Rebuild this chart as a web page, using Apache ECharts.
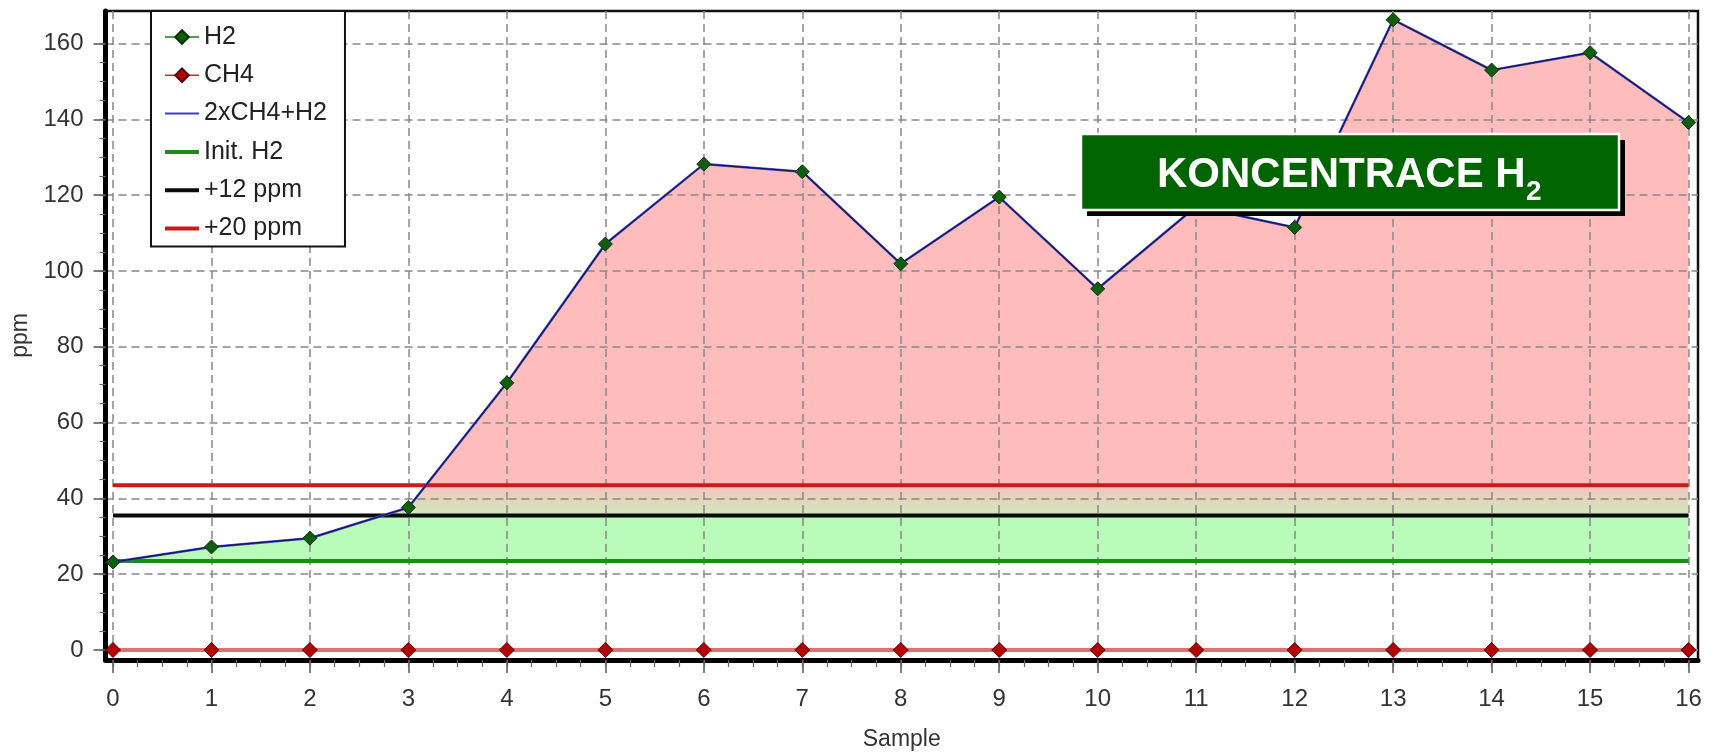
<!DOCTYPE html>
<html>
<head>
<meta charset="utf-8">
<script src="https://cdn.jsdelivr.net/npm/echarts@6/dist/echarts.min.js"></script>
<style>
html,body{margin:0;padding:0;background:#fff;}
#chart{width:1715px;height:753px;}
</style>
</head>
<body>
<div id="chart"></div>
<script>
// ---- data ----
const samples = [0,1,2,3,4,5,6,7,8,9,10,11,12,13,14,15,16];
const h2 = [23.2,27.2,29.5,37.6,70.5,107.1,128.2,126.2,101.9,119.5,95.3,117,111.5,166.3,153,157.6,139.2];
const ch4 = [0,0,0,0,0,0,0,0,0,0,0,0,0,0,0,0,0];
const initH2 = 23.5;
const offsetLow = 12;
const offsetHigh = 20;
const xTickValues = [0,1,2,3,4,5,6,7,8,9,10,11,12,13,14,15,16];
const yTickValues = [0,20,40,60,80,100,120,140,160];

// ---- derived ----
const sumSeries = samples.map((s,i)=>2*ch4[i]+h2[i]);
const lvlInit = initH2, lvl12 = initH2+offsetLow, lvl20 = initH2+offsetHigh;
const xMinor = []; for (let v=xTickValues[0]; v<=xTickValues[xTickValues.length-1]+1e-9; v+=0.25) xMinor.push(+v.toFixed(2));
const yMinor = []; for (let v=yTickValues[0]; v<=yTickValues[yTickValues.length-1]+1e-9; v+=5) yMinor.push(v);
const X_MIN=-0.076, X_MAX=16.096, Y_MIN=-2.64, Y_MAX=168.6;
const FONT = '"Liberation Sans", Arial, sans-serif';

function bandPoints(xs, ys, lo, hi){
  const clamp=v=>Math.max(lo,Math.min(hi,v));
  const pts=[];
  for(let i=0;i<xs.length;i++){
    if(i>0){
      const x0=xs[i-1],y0=ys[i-1],x1=xs[i],y1=ys[i];
      const cr=[];
      [lo,hi].forEach(t=>{ if((y0-t)*(y1-t)<0){ cr.push([x0+(t-y0)/(y1-y0)*(x1-x0), t]); } });
      cr.sort((a,b)=>a[0]-b[0]);
      cr.forEach(c=>pts.push([c[0],clamp(c[1])]));
    }
    pts.push([xs[i],clamp(ys[i])]);
  }
  pts.push([xs[xs.length-1],lo]);
  pts.push([xs[0],lo]);
  return pts;
}

const chart = echarts.init(document.getElementById('chart'), null, {renderer:'canvas'});

const fillSeries = {
  type:'custom', name:'fills', z:-1, silent:true, clip:true,
  data:[[0,0]],
  renderItem:function(params, api){
    const toPx = p=>api.coord(p);
    const green = bandPoints(samples, sumSeries, lvlInit, lvl12).map(toPx);
    const mid = bandPoints(samples, sumSeries, lvl12, lvl20).map(toPx);
    const pink = bandPoints(samples, sumSeries, lvl20, 1e9).map(toPx);
    const yTop = api.coord([0,lvl20])[1], yBot = api.coord([0,lvl12])[1];
    return {type:'group', children:[
      {type:'polygon', shape:{points:green}, style:{fill:'#b9fbb9'}},
      {type:'polygon', shape:{points:mid}, style:{fill:new echarts.graphic.LinearGradient(0,yTop,0,yBot,[{offset:0,color:'#f7c4bf'},{offset:1,color:'#cdeabb'}],true)}},
      {type:'polygon', shape:{points:pink}, style:{fill:'#ffbcbc'}}
    ]};
  }
};

const hLine = (v)=>[[samples[0],v],[samples[samples.length-1],v]];
const noSym = {opacity:0};

const option = {
  animation:false,
  backgroundColor:'#fff',
  grid:{left:105.5, top:11, right:1715-1698, bottom:753-660, show:true, borderColor:'#111', borderWidth:2.5, backgroundColor:'transparent', containLabel:false, outerBoundsMode:'none'},
  xAxis:[{
    type:'value', min:X_MIN, max:X_MAX, position:'bottom',
    name:'Sample', nameLocation:'middle', nameGap:68,
    nameTextStyle:{fontFamily:FONT, fontSize:23, color:'#333'},
    axisLine:{show:true, onZero:false, lineStyle:{color:'#000', width:5}},
    axisTick:{show:true, customValues:xTickValues, length:13, lineStyle:{color:'#555', width:1.5}},
    axisLabel:{show:true, customValues:xTickValues, margin:27, fontFamily:FONT, fontSize:24, color:'#333'},
    splitLine:{show:true, lineStyle:{color:'#888', width:1.5, type:[8,5]}}
  },{
    type:'value', min:X_MIN, max:X_MAX, position:'bottom',
    axisLine:{show:false, onZero:false},
    axisTick:{show:true, customValues:xMinor, length:7, lineStyle:{color:'#666', width:1.2}},
    axisLabel:{show:false},
    splitLine:{show:false}
  }],
  yAxis:[{
    type:'value', min:Y_MIN, max:Y_MAX, position:'left',
    name:'ppm', nameLocation:'middle', nameGap:72, nameRotate:90,
    nameTextStyle:{fontFamily:FONT, fontSize:23, color:'#333'},
    axisLine:{show:true, onZero:false, lineStyle:{color:'#000', width:5}},
    axisTick:{show:true, customValues:yTickValues, length:12, lineStyle:{color:'#555', width:1.5}},
    axisLabel:{show:true, customValues:yTickValues, margin:22, fontFamily:FONT, fontSize:24, color:'#333'},
    splitLine:{show:true, lineStyle:{color:'#888', width:1.5, type:[8,5]}}
  },{
    type:'value', min:Y_MIN, max:Y_MAX, position:'left',
    axisLine:{show:false, onZero:false},
    axisTick:{show:true, customValues:yMinor, length:6, lineStyle:{color:'#666', width:1.2}},
    axisLabel:{show:false},
    splitLine:{show:false}
  }],
  legend:{
    orient:'vertical', left:151, top:11,
    padding:[13,18,5,12], itemGap:12.3, itemWidth:34, itemHeight:17,
    backgroundColor:'#fff', borderColor:'#111', borderWidth:2, borderRadius:0,
    textStyle:{fontFamily:FONT, fontSize:25, color:'#222', lineHeight:26},
    data:[
      {name:'H2', lineStyle:{color:'#1a7a1a', width:1.5}},
      {name:'CH4', lineStyle:{color:'#c83030', width:1.5}},
      {name:'2xCH4+H2', itemStyle:noSym, lineStyle:{color:'#3a3ad0', width:2}},
      {name:'Init. H2', itemStyle:noSym, lineStyle:{color:'#1f8a1f', width:4}},
      {name:'+12 ppm', itemStyle:noSym, lineStyle:{color:'#0a0a0a', width:4}},
      {name:'+20 ppm', itemStyle:noSym, lineStyle:{color:'#c81c1c', width:4}}
    ]
  },
  graphic:[
    {type:'rect', shape:{x:1087, y:140, width:538, height:76}, style:{fill:'#000'}, z:100},
    {type:'rect', shape:{x:1081, y:134, width:538, height:76}, style:{fill:'#006400', stroke:'#fff', lineWidth:2.5}, z:101},
    {type:'text', x:1157, y:175, z:102, style:{text:'KONCENTRACE H', fill:'#fff', font:'bold 42px '+FONT, align:'left', verticalAlign:'middle', textShadowColor:'#000', textShadowOffsetX:3, textShadowOffsetY:3, textShadowBlur:0}},
    {type:'text', x:1526, y:192, z:102, style:{text:'2', fill:'#fff', font:'bold 28px '+FONT, align:'left', verticalAlign:'middle', textShadowColor:'#000', textShadowOffsetX:2, textShadowOffsetY:2, textShadowBlur:0}}
  ],
  series:[
    fillSeries,
    {name:'+20 ppm', type:'line', z:3, data:hLine(lvl20), symbol:'none', itemStyle:{color:'#c81c1c'}, lineStyle:{color:'#c81c1c', width:4}, silent:true},
    {name:'+12 ppm', type:'line', z:3, data:hLine(lvl12), symbol:'none', itemStyle:{color:'#0a0a0a'}, lineStyle:{color:'#0a0a0a', width:4}, silent:true},
    {name:'Init. H2', type:'line', z:3, data:hLine(lvlInit), symbol:'none', itemStyle:{color:'#1f8a1f'}, lineStyle:{color:'#1f8a1f', width:4}, silent:true},
    {name:'2xCH4+H2', type:'line', z:4, data:samples.map((s,i)=>[s,sumSeries[i]]), symbol:'none', itemStyle:{color:'#4040c0'}, lineStyle:{color:'#4848c8', width:2.5}},
    {name:'CH4', type:'line', z:4, data:samples.map((s,i)=>[s,ch4[i]]), symbol:'diamond', symbolSize:15, showAllSymbol:true,
      itemStyle:{color:'#b30000', borderColor:'#5a0000', borderWidth:1}, lineStyle:{color:'#e07070', width:4}},
    {name:'H2', type:'line', z:5, data:samples.map((s,i)=>[s,h2[i]]), symbol:'diamond', symbolSize:14, showAllSymbol:true,
      itemStyle:{color:'#0d5e0d', borderColor:'#063006', borderWidth:1}, lineStyle:{color:'#16164e', width:1.2}}
  ]
};
chart.setOption(option);
</script>
</body>
</html>
